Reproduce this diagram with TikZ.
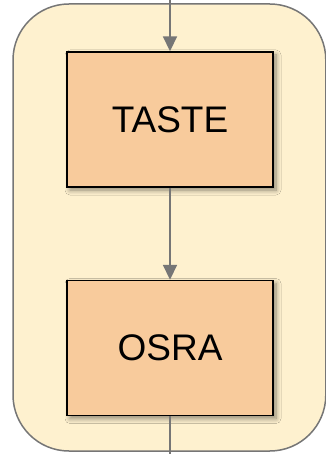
\documentclass[tikz,border=0pt]{standalone}
\usepackage{fontspec}
\setmainfont{Liberation Sans}
\usetikzlibrary{arrows.meta,shadows.blur}
\definecolor{lane}{HTML}{FEF1CF}
\definecolor{stagefill}{HTML}{F8CB9C}
\definecolor{wire}{HTML}{767676}
\tikzset{
  lanebox/.style={draw=wire,line width=1.5pt,fill=lane,rounded corners=56pt},
  stagebox/.style={draw=black,line width=1.4pt,fill=stagefill,
    minimum width=206pt,minimum height=135pt,inner sep=0pt,
    font=\fontsize{37}{42}\selectfont,
    blur shadow={shadow xshift=3pt,shadow yshift=-3pt,shadow blur steps=8,shadow blur radius=5pt,shadow opacity=45}},
  flow/.style={draw=wire,line width=1.8pt,-{Triangle[width=14pt,length=15pt]}},
}

\begin{document}
\begin{tikzpicture}[x=1pt,y=-1pt]
\useasboundingbox (0,0) rectangle (325,454);
\draw[lanebox] (13,4) rectangle (325.8,451);
% the two stages
\node[stagebox] (taste) at (170,119.5) {TASTE};
\node[stagebox] (osra) at (170,348) {OSRA};
\coordinate (in) at (170,0);
\coordinate (out) at (170,454);
\draw[flow] (in) -- (taste.north);
\draw[flow] (taste.south) -- (osra.north);
\draw[draw=wire,line width=1.8pt] (osra.south) -- (out);
\end{tikzpicture}
\end{document}
